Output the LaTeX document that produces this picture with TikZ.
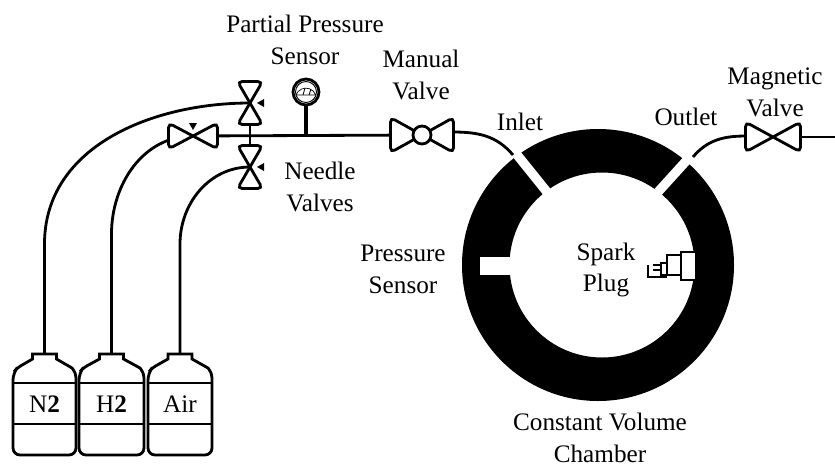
\documentclass[tikz,border=0pt]{standalone}
\usepackage{fontspec}
\setmainfont{Liberation Serif}
\tikzset{
  pipe/.style={line width=2.4pt},
  lbl/.style={align=center,font=\fontsize{21.5}{27.2}\selectfont},
  pics/bowtie/.style 2 args={code={
    \draw[pipe,fill=white] (0,0) [rounded corners=4pt] -- (-#1,-#2) -- (-#1,#2) [sharp corners] -- cycle;
    \draw[pipe,fill=white] (0,0) [rounded corners=4pt] -- (#1,-#2) -- (#1,#2) [sharp corners] -- cycle;
  }}
}
\begin{document}
\begin{tikzpicture}[x=0.03cm,y=-0.03cm]
\useasboundingbox (0,0) rectangle (835,467);

% chamber
\fill[even odd rule] (598,265) circle [radius=136] (602,265) circle [radius=92.5];
\draw[white,line width=8pt] (510,146) -- (547,192);
\draw[white,line width=8pt] (697,149) -- (658,192);
\fill[white] (480,257) rectangle (515,275);

% spark plug
\draw[pipe,fill=white] (681,252) rectangle (696,280);
\draw[pipe,fill=white] (667,255) rectangle (681,275);
\draw[pipe,fill=white] (661,263) rectangle (667,275);
\draw[pipe] (653,265) -- (661,265);
\draw[pipe] (653,270) -- (661,270);
\draw[pipe] (648,265) -- (648,277) -- (667,277);

% pipe points
\coordinate (vtop) at (250,103);
\coordinate (vmid) at (193,136);
\coordinate (vlow) at (250,167);
\coordinate (gauge) at (306,92);
\coordinate (stem) at (306,136);
\coordinate (manual) at (422,135);
\coordinate (manualout) at (453,132);
\coordinate (inlet) at (513,155);
\coordinate (outlet) at (693,157);
\coordinate (magnetic) at (773,137);
\coordinate (magneticin) at (746,136);
\coordinate (exit) at (835,137);

% tanks
\foreach \x/\w/\lab/\nm in {44.5/31.5/N\textbf{2}/tanka,111.5/32.5/H\textbf{2}/tankb,180/32/Air/tankc}{
  \draw[pipe,rounded corners=6pt] (\x-\w,455) -- (\x-\w,373) [rounded corners=4pt] -- (\x-\w+4,368) [sharp corners] -- (\x-12,359) -- (\x-12,354) -- (\x+12,354) -- (\x+12,359) -- (\x+\w-4,368) [rounded corners=4pt] -- (\x+\w,373) [rounded corners=6pt] -- (\x+\w,455) -- cycle;
  \draw[pipe] (\x-\w,383) -- (\x+\w,383);
  \draw[pipe] (\x-\w,424) -- (\x+\w,424);
  \coordinate (\nm) at (\x,354);
  \node[lbl] (\nm lab) at (\x,404) {\lab};
}

% gas lines
\draw[pipe] (tanka) -- ++(0,-110) to [out=90,in=180] (vtop);
\draw[pipe] (tankb) -- ++(0,-120) to [out=90,in=180] (vmid);
\draw[pipe] (tankc) -- ++(0,-110) to [out=90,in=180] (vlow);
\draw[pipe] (vmid) -- (manual);
\draw[pipe] (vtop) -- (vlow);
\draw[pipe] (manualout) to [out=0,in=130] (inlet);
\draw[pipe] (outlet) to [out=50,in=180] (magneticin);
\draw[pipe] (magnetic) -- (exit);

% valves
\pic at (vtop) [rotate=90] {bowtie={21.5}{12.5}};
\pic at (vlow) [rotate=90] {bowtie={21.5}{12.5}};
\pic at (vmid) {bowtie={24.5}{13}};
\pic at (magnetic) {bowtie={27.5}{15}};
\pic at (manual) {bowtie={31.5}{17.5}};
\draw[pipe,fill=white] (manual) circle [radius=9];
\fill (vtop) ++(7,0) -- ++(7,-4) -- ++(0,8) -- cycle;
\fill (vlow) ++(7,0) -- ++(7,-4) -- ++(0,8) -- cycle;
\fill (vmid) ++(0,-6) -- ++(-4,-7) -- ++(8,0) -- cycle;

% gauge
\draw[line width=3pt] (gauge) -- (stem);
\draw[pipe,fill=white] (gauge) circle [radius=13];
\draw[line width=.8pt] (gauge) circle [radius=10.5];
\draw[line width=.6pt] (296,95) arc [start angle=200,end angle=340,radius=10.5] -- cycle;
\draw[line width=.7pt] (303,95) -- (305,88);
\draw[line width=.7pt] (309,95) -- (311,89);

% labels
\node[lbl] (partial) at (305,40) {Partial Pressure\\Sensor};
\node[lbl] (manlab) at (421,75) {Manual\\Valve};
\node[lbl] (inlab) at (520,122) {Inlet};
\node[lbl] (outlab) at (686,117) {Outlet};
\node[lbl] (maglab) at (775,92) {Magnetic\\Valve};
\node[lbl] (needle) at (320,187) {Needle\\Valves};
\node[lbl] (preslab) at (403,269) {Pressure\\Sensor};
\node[lbl] (sparklab) at (606,270) {Spark\\Plug};
\node[lbl] (chamlab) at (600,438) {Constant Volume\\Chamber};
\end{tikzpicture}
\end{document}
